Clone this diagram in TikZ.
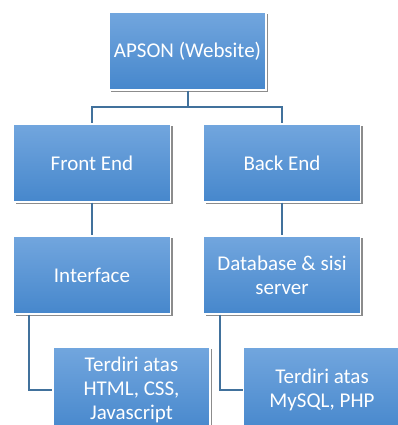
\documentclass[tikz,border=0pt]{standalone}
\usepackage{fontspec}
\setmainfont{Carlito}
\usetikzlibrary{shadows}
\definecolor{boxtop}{RGB}{114,166,222}
\definecolor{boxbot}{RGB}{70,135,204}
\definecolor{linkcol}{RGB}{65,113,156}
\tikzset{
  orgbox/.style={rectangle, draw=white, line width=1.5pt, top color=boxtop, bottom color=boxbot,
    minimum width=157pt, minimum height=78pt, inner sep=2pt, align=center, text=white,
    font=\fontsize{21}{24}\selectfont,
    drop shadow={shadow xshift=2pt, shadow yshift=-2.5pt, opacity=0.45, fill=black}},
  link/.style={draw=linkcol, line width=2pt}
}
\begin{document}
\begin{tikzpicture}[x=1pt,y=1pt]
\useasboundingbox (0,0) rectangle (398,425);
\clip (0,0) rectangle (398,425);
\node[orgbox] (top) at (187.5,374) {APSON (Website)};
\node[orgbox] (fe) at (92,262) {Front End};
\node[orgbox] (be) at (282,262) {Back End};
\node[orgbox] (int) at (92,150) {Interface};
\node[orgbox] (db) at (282,150) {Database \& sisi\\server};
\coordinate (hub) at (187.5,318);
\draw[link] (top.south) -- (hub);
\draw[link] (hub) -| (fe.north);
\draw[link] (hub) -| (be.north);
\draw[link] (fe.south) -- (int.north);
\draw[link] (be.south) -- (db.north);
\node[orgbox, minimum height=86pt] (l3) at (131.5,35) {Terdiri atas\\HTML, CSS,\\Javascript};
\node[orgbox, minimum height=86pt] (r3) at (322,35) {Terdiri atas\\MySQL, PHP};
\draw[link] ([xshift=16pt]int.south west) |- (l3.west);
\draw[link] ([xshift=17pt]db.south west) |- (r3.west);
\end{tikzpicture}
\end{document}
